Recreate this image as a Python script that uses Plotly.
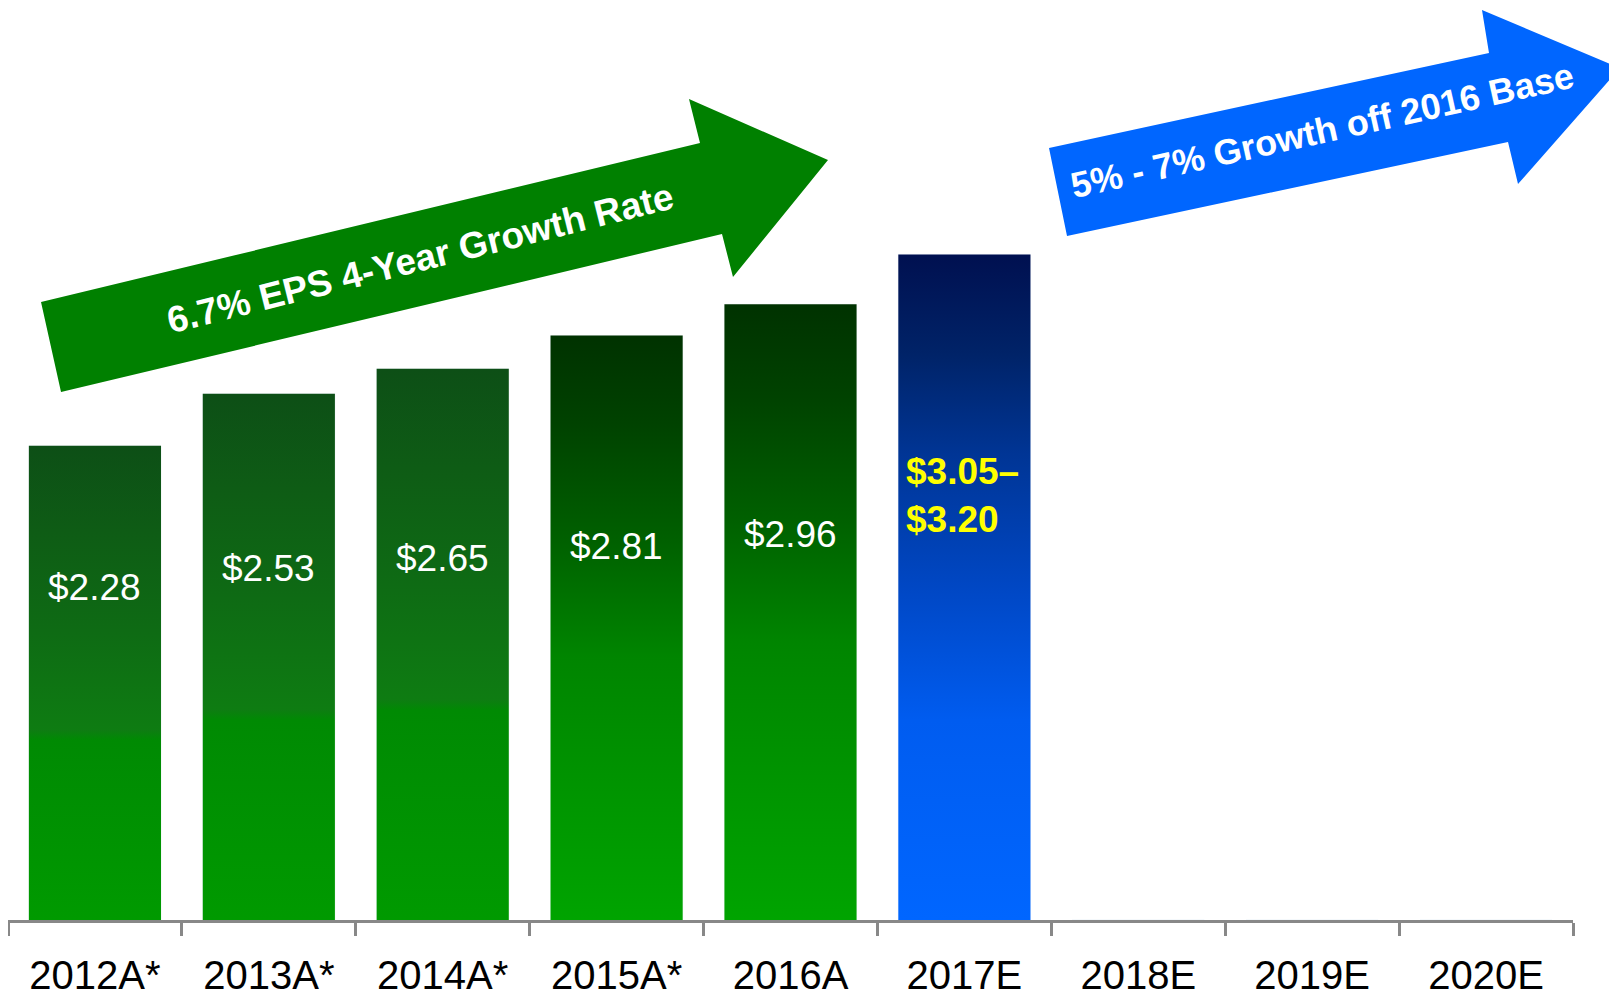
import plotly.graph_objects as go

# EPS by year; estimates for 2018-2020 have no bar
years = ["2012A*", "2013A*", "2014A*", "2015A*", "2016A", "2017E", "2018E", "2019E", "2020E"]
eps = [2.28, 2.53, 2.65, 2.81, 2.96, 3.20, None, None, None]
eps_labels = ["$2.28", "$2.53", "$2.65", "$2.81", "$2.96", "$3.05–<br>$3.20"]

green_arrow_text = "6.7% EPS 4-Year Growth Rate"
blue_arrow_text = "5% - 7% Growth off 2016 Base"

# the page body has an 8px margin, so the figure is drawn 8px in from the corner
OFF = 8
W, H = 1617 - OFF, 997 - OFF
X0, X1, Y0, Y1 = 8, 1573, 0, 920          # plot area in window pixels
L, R = X0 - OFF, W - (X1 - OFF)
T, B = 0, H - (Y1 - OFF)
PW, PH = X1 - X0, Y1 - OFF - T
FONT = "Liberation Sans, Arial, sans-serif"

green_a = [[0, "#009a00"], [0.38, "#008a03"], [0.40, "#0e7c12"], [0.61, "#0e6b14"],
           [0.82, "#0e5c15"], [1, "#0d4f16"]]
green_b = [[0, "#00a400"], [0.45, "#008500"], [0.65, "#006000"], [0.85, "#004200"], [1, "#003200"]]
blue = [[0, "#0066ff"], [0.3, "#005cf0"], [0.5, "#0047c4"], [0.7, "#003595"],
        [0.85, "#002368"], [1, "#001050"]]
scales = [green_a, green_a, green_a, green_b, green_b, blue]

half = 0.38

fig = go.Figure()
# invisible bars carry the categories on the main axis
fig.add_trace(go.Bar(x=years, y=[v if v is not None else 0 for v in eps],
                     marker_color="rgba(0,0,0,0)", hoverinfo="skip", showlegend=False))

for i, v in enumerate(eps):
    if v is None:
        continue
    fig.add_trace(go.Scatter(
        x=[i - half, i + half, i + half, i - half, i - half],
        y=[0, 0, v, v, 0],
        mode="none", fill="toself",
        fillgradient=dict(type="vertical", colorscale=scales[i], start=0, stop=v),
        xaxis="x2", yaxis="y", hoverinfo="skip", showlegend=False))


def pp(x, y):
    # window pixels -> paper coords
    return (x - X0) / PW, (Y1 - y) / PH


def path(pts):
    s = ""
    for k, (x, y) in enumerate(pts):
        a, b = pp(x, y)
        s += ("M" if k == 0 else "L") + f"{a:.5f},{b:.5f} "
    return s + "Z"


green_pts = [(41, 302), (700, 143), (689, 99), (828, 160), (733, 277), (722, 234), (61, 392)]
blue_pts = [(1049, 148), (1489, 53), (1482, 10), (1620, 68), (1518, 184), (1508, 142), (1067, 236)]

fig.add_shape(type="path", path=path(green_pts), xref="paper", yref="paper",
              fillcolor="#008000", line_width=0)
fig.add_shape(type="path", path=path(blue_pts), xref="paper", yref="paper",
              fillcolor="#0066ff", line_width=0)

gx, gy = pp(420, 258)
fig.add_annotation(x=gx, y=gy, xref="paper", yref="paper", text=green_arrow_text,
                   textangle=-14, showarrow=False, xanchor="center", yanchor="middle",
                   font=dict(family=FONT, size=37, color="white", weight="bold"))
bx, by = pp(1322, 130)
fig.add_annotation(x=bx, y=by, xref="paper", yref="paper", text=blue_arrow_text,
                   textangle=-12.5, showarrow=False, xanchor="center", yanchor="middle",
                   font=dict(family=FONT, size=36, color="white", weight="bold"))

for i, txt in enumerate(eps_labels):
    v = eps[i]
    if i < 5:
        fig.add_annotation(x=i, y=0.73 + 0.38 * v, xref="x2", yref="y", text=txt,
                           showarrow=False,
                           font=dict(family=FONT, size=37, color="white"))
    else:
        fig.add_annotation(x=i - half, y=2.04, xref="x2", yref="y", text=txt,
                           showarrow=False, xanchor="left", align="left", xshift=6,
                           font=dict(family=FONT, size=37, color="#ffff00", weight="bold"))

fig.update_layout(
    width=W, height=H,
    margin=dict(l=L, r=R, t=T, b=B, autoexpand=False),
    plot_bgcolor="white", paper_bgcolor="white",
    bargap=0.24,
    showlegend=False,
    xaxis=dict(type="category", categoryorder="array", categoryarray=years,
               range=[-0.5, 8.5], tickson="boundaries", ticks="outside", ticklen=13,
               tickwidth=2.5, tickcolor="#888888", showline=True, linecolor="#888888",
               linewidth=2.5, showgrid=False, zeroline=False, ticklabelstandoff=18,
               automargin=False,
               tickfont=dict(family=FONT, size=40, color="black")),
    xaxis2=dict(overlaying="x", range=[-0.5, 8.5], visible=False),
    yaxis=dict(range=[0, (Y1 - OFF) / 208.0], visible=False),
)

fig.write_html("out.html")
